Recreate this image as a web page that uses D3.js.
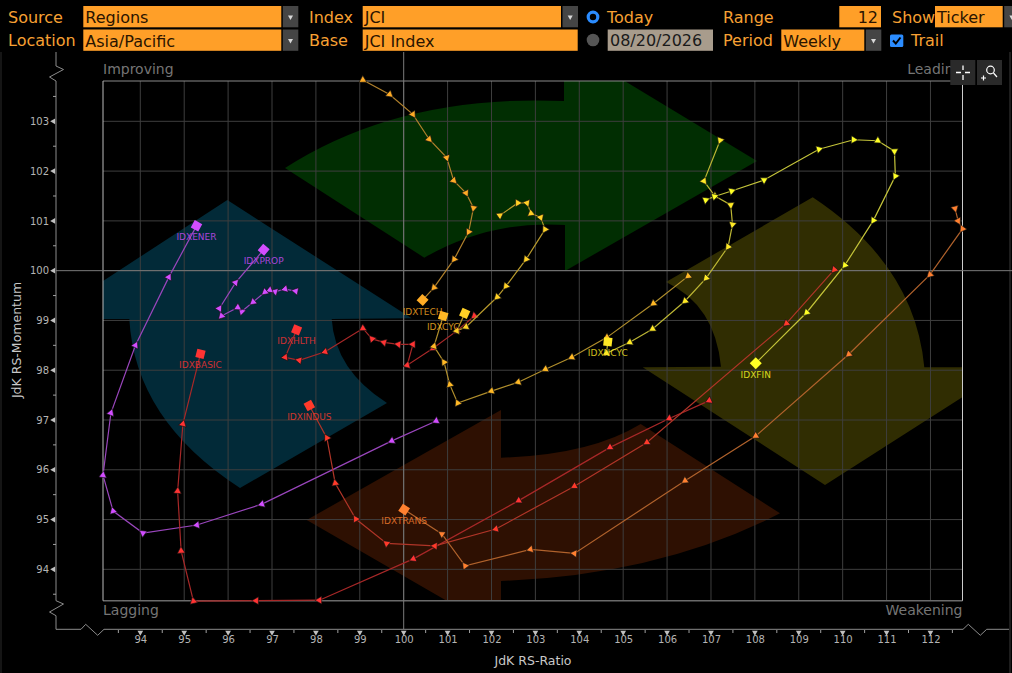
<!DOCTYPE html>
<html>
<head>
<meta charset="utf-8">
<script src="https://cdn.jsdelivr.net/npm/d3@7"></script>
<style>
html, body { margin: 0; background: #000; overflow: hidden; }
svg { display: block; }
text { font-family: "DejaVu Sans", sans-serif; }
</style>
</head>
<body>
<div id="rrg"></div>
<script>
// values, oldest week first, last one is the current position
var enerRatio = [100.74, 99.73, 96.77, 95.29, 94.06, 93.38, 93.15, 93.33, 93.89, 94.65, 95.28];
var enerMom = [96.98, 96.58, 95.31, 94.89, 94.73, 95.17, 95.89, 97.14, 98.50, 99.87, 100.90];
var propRatio = [97.54, 97.30, 97.07, 96.95, 96.84, 96.57, 96.31, 96.22, 95.85, 95.80, 96.17, 96.81];
var propMom = [99.59, 99.63, 99.58, 99.61, 99.57, 99.37, 99.18, 99.26, 99.09, 99.24, 99.76, 100.42];
var basicRatio = [106.96, 106.05, 104.70, 102.62, 100.22, 98.08, 96.64, 95.21, 94.93, 94.85, 94.97, 95.37];
var basicMom = [97.39, 97.03, 96.45, 95.38, 94.21, 93.38, 93.37, 93.36, 94.37, 95.57, 96.92, 98.33];
var hlthRatio = [101.61, 101.21, 100.67, 100.08, 100.21, 99.88, 99.55, 99.28, 99.07, 98.21, 97.62, 97.30, 97.56];
var hlthMom = [99.09, 98.79, 98.44, 98.10, 98.52, 98.52, 98.56, 98.63, 98.84, 98.37, 98.20, 98.26, 98.81];
var indusRatio = [109.81, 108.72, 105.54, 103.89, 102.10, 100.71, 99.61, 98.91, 98.44, 98.25, 97.85];
var indusMom = [100.02, 98.94, 96.55, 95.67, 94.81, 94.47, 94.52, 95.01, 95.73, 96.64, 97.29];
var transRatio = [112.56, 112.63, 112.73, 111.99, 110.14, 108.02, 106.41, 103.89, 102.89, 101.40, 100.87, 100.01];
var transMom = [101.25, 101.00, 100.84, 99.92, 98.32, 96.68, 95.78, 94.32, 94.40, 94.07, 94.71, 95.20];
var techRatio = [99.07, 99.68, 100.21, 100.58, 100.98, 101.14, 101.42, 101.59, 101.48, 101.15, 100.69, 100.43];
var techMom = [103.83, 103.54, 103.14, 102.64, 102.27, 101.81, 101.56, 101.26, 100.78, 100.23, 99.66, 99.41];
var cycRatio = [106.48, 105.69, 104.63, 103.83, 103.23, 102.61, 102.00, 101.23, 101.05, 100.92, 100.69, 100.90];
var cycMom = [99.89, 99.34, 98.66, 98.26, 98.02, 97.76, 97.58, 97.34, 97.71, 98.16, 98.48, 99.09];
var unlabeledRatio = [102.19, 102.60, 102.81, 102.90, 103.12, 103.22, 102.79, 102.33, 102.13, 101.42, 101.21, 101.39];
var unlabeledMom = [101.11, 101.36, 101.36, 101.15, 101.07, 100.83, 100.23, 99.69, 99.47, 98.87, 98.79, 99.14];
var ncycRatio = [107.21, 106.84, 107.09, 107.45, 107.49, 107.39, 106.89, 106.41, 105.67, 105.15, 104.62, 104.65];
var ncycMom = [102.62, 101.80, 101.50, 101.32, 100.93, 100.48, 99.85, 99.39, 98.83, 98.56, 98.34, 98.57];
var finRatio = [106.88, 107.08, 107.47, 108.21, 109.46, 110.25, 110.80, 111.18, 111.20, 110.70, 110.05, 109.18, 108.02];
var finMom = [101.42, 101.49, 101.60, 101.82, 102.44, 102.63, 102.61, 102.40, 101.90, 101.01, 100.11, 99.16, 98.14];

var xTicks = d3.range(94, 113);
var yTicks = d3.range(94, 104);

var series = [
	{ name: "IDXENER", ratio: enerRatio, mom: enerMom, line: "#9a46bd", fill: "#d24dff" },
	{ name: "IDXPROP", ratio: propRatio, mom: propMom, line: "#9a46bd", fill: "#d24dff" },
	{ name: "IDXBASIC", ratio: basicRatio, mom: basicMom, line: "#a82828", fill: "#ff3333" },
	{ name: "IDXHLTH", ratio: hlthRatio, mom: hlthMom, line: "#a82828", fill: "#ff3333" },
	{ name: "IDXINDUS", ratio: indusRatio, mom: indusMom, line: "#b03528", fill: "#ff3a2a" },
	{ name: "IDXTRANS", ratio: transRatio, mom: transMom, line: "#b0622c", fill: "#ff8030" },
	{ name: "IDXTECH", ratio: techRatio, mom: techMom, line: "#b0802c", fill: "#ffab25" },
	{ name: "IDXCYC", ratio: cycRatio, mom: cycMom, line: "#b08e2c", fill: "#ffb825" },
	{ name: "", ratio: unlabeledRatio, mom: unlabeledMom, line: "#b89a2c", fill: "#ffd025" },
	{ name: "IDXNCYC", ratio: ncycRatio, mom: ncycMom, line: "#bcb634", fill: "#ffe925" },
	{ name: "IDXFIN", ratio: finRatio, mom: finMom, line: "#c4c43a", fill: "#ffff25" }
];

var svg = d3.select('#rrg').append('svg')
	.attr('width', 1012)
	.attr('height', 673);

var plotLeft = 103, plotRight = 962.5, plotTop = 81, plotBottom = 600.7;

var x = d3.scaleLinear().domain([93.15, 112.73]).range([plotLeft, plotRight]);
var y = d3.scaleLinear().domain([93.37, 103.81]).range([plotBottom, plotTop]);

svg.append("defs").append("clipPath").attr("id", "plot")
	.append("rect")
	.attr("x", plotLeft).attr("y", plotTop)
	.attr("width", plotRight - plotLeft).attr("height", plotBottom - plotTop);

// outer panel edges
svg.append("line").attr("x1", 1).attr("x2", 1).attr("y1", 52).attr("y2", 673).style("stroke", "#2a2a2a");
svg.append("line").attr("x1", 1010).attr("x2", 1010).attr("y1", 52).attr("y2", 673).style("stroke", "#3a3a3a");

// quadrant arrows behind the grid
var arrows = [
	{ fill: "#012e02", d: "M285,168 Q400,94 564,101 L564,60 L590,60 L757,161 L565,271 L565,225 Q490,220 424.3,257.7 Z" },
	{ fill: "#022a38", d: "M60,309 L227.3,200 L411.7,318.3 L331.7,319 Q335,370 387,403 L240,488 Q135,420 129.3,319 L60,319 Z" },
	{ fill: "#302d02", d: "M812.7,197.3 L666,282 Q715,305 721,366.7 L642.7,367.3 L825,485 L1000,373 L1000,367.3 L924.3,367.3 Q915,265 812.7,197.3 Z" },
	{ fill: "#2e1002", d: "M306.7,520 L501,410 L501,457.7 Q590,455 640.7,424 L780,513.3 Q660,575 501,581 L501,640 L480,620 Z" }
];
svg.append("g").attr("clip-path", "url(#plot)").selectAll("path")
	.data(arrows)
	.enter().append("path")
	.attr("d", function (d) { return d.d; })
	.style("fill", function (d) { return d.fill; });

// grid
svg.append("g").selectAll("line")
	.data(xTicks)
	.enter().append("line")
	.style("stroke", "#3e3e3e")
	.attr("x1", function (d) { return x(d); })
	.attr("x2", function (d) { return x(d); })
	.attr("y1", plotTop)
	.attr("y2", plotBottom);

svg.append("g").selectAll("line")
	.data(yTicks)
	.enter().append("line")
	.style("stroke", "#3e3e3e")
	.attr("x1", plotLeft)
	.attr("x2", plotRight)
	.attr("y1", function (d) { return y(d); })
	.attr("y2", function (d) { return y(d); });

// plot frame
svg.append("line").attr("x1", plotLeft).attr("x2", plotRight).attr("y1", plotTop).attr("y2", plotTop).style("stroke", "#8a8a8a");
svg.append("line").attr("x1", plotLeft).attr("x2", plotRight).attr("y1", plotBottom).attr("y2", plotBottom).style("stroke", "#6a6a6a").style("stroke-width", 1.5);
svg.append("line").attr("x1", plotLeft).attr("x2", plotLeft).attr("y1", plotTop).attr("y2", plotBottom).style("stroke", "#bbbbbb");
svg.append("line").attr("x1", plotRight).attr("x2", plotRight).attr("y1", plotTop).attr("y2", plotBottom).style("stroke", "#cccccc");

// the 100 lines run out past the frame
svg.append("line").attr("x1", x(100)).attr("x2", x(100)).attr("y1", 52).attr("y2", 629).style("stroke", "#7a7a7a");
svg.append("line").attr("x1", 56).attr("x2", 1012).attr("y1", y(100)).attr("y2", y(100)).style("stroke", "#7a7a7a");

// axes with the break marks
var axisColor = "#8c8c8c";
var axisPath = d3.line();
svg.append("path")
	.attr("d", axisPath([[56, 52], [56, 66], [63.5, 69.5], [49.5, 77], [56, 81], [56, 600.7], [63.5, 604], [49.5, 612], [56, 615.7], [56, 629.3],
		[81, 629.3], [85.7, 624.3], [97.7, 635.3], [104, 629.3], [963, 629.3], [968.3, 624.3], [980.3, 635.3], [986.7, 629.3], [1009, 629.3]]))
	.style("fill", "none")
	.style("stroke", axisColor);

var xAxis = d3.axisBottom(x).tickValues(xTicks).tickSize(0).tickPadding(6).tickFormat(d3.format("d"));
var gx = svg.append("g").attr("transform", "translate(0,630)").call(xAxis);
gx.select(".domain").remove();
gx.selectAll("text").style("font-size", "10px").style("fill", "#b4b4b4");

var yAxis = d3.axisLeft(y).tickValues(yTicks).tickSize(0).tickPadding(7).tickFormat(d3.format("d"));
var gy = svg.append("g").attr("transform", "translate(56,0)").call(yAxis);
gy.select(".domain").remove();
gy.selectAll("text").style("font-size", "10px").style("fill", "#b4b4b4");

// tick marks: small arrows on whole numbers, short lines on the halves
svg.append("g").selectAll("path")
	.data(xTicks)
	.enter().append("path")
	.attr("d", d3.symbol().type(d3.symbolTriangle).size(14))
	.attr("transform", function (d) { return "translate(" + x(d) + ",632.5) rotate(180)"; })
	.style("fill", "#c0c0c0");
svg.append("g").selectAll("path")
	.data(yTicks)
	.enter().append("path")
	.attr("d", d3.symbol().type(d3.symbolTriangle).size(14))
	.attr("transform", function (d) { return "translate(53.5," + y(d) + ") rotate(-90)"; })
	.style("fill", "#c0c0c0");
svg.append("g").selectAll("line")
	.data(d3.range(93.5, 113, 1))
	.enter().append("line")
	.style("stroke", "#a0a0a0")
	.attr("x1", function (d) { return x(d); })
	.attr("x2", function (d) { return x(d); })
	.attr("y1", 630)
	.attr("y2", 633);
svg.append("g").selectAll("line")
	.data(d3.range(93.5, 104, 1))
	.enter().append("line")
	.style("stroke", "#a0a0a0")
	.attr("x1", 53)
	.attr("x2", 56)
	.attr("y1", function (d) { return y(d); })
	.attr("y2", function (d) { return y(d); });

svg.append("text").text("JdK RS-Ratio")
	.attr("x", 533).attr("y", 665)
	.attr("text-anchor", "middle")
	.style("font-size", "12.5px")
	.style("fill", "#c8c8c8");
svg.append("text").text("JdK RS-Momentum")
	.attr("transform", "translate(21,340) rotate(-90)")
	.attr("text-anchor", "middle")
	.style("font-size", "12.5px")
	.style("fill", "#c8c8c8");

// quadrant names
var quadrants = [
	{ t: "Improving", x: plotLeft, y: 74, a: "start" },
	{ t: "Leading", x: plotRight, y: 74, a: "end" },
	{ t: "Lagging", x: plotLeft, y: 615, a: "start" },
	{ t: "Weakening", x: plotRight, y: 615, a: "end" }
];
svg.append("g").selectAll("text")
	.data(quadrants)
	.enter().append("text")
	.text(function (d) { return d.t; })
	.attr("x", function (d) { return d.x; })
	.attr("y", function (d) { return d.y; })
	.attr("text-anchor", function (d) { return d.a; })
	.style("font-size", "14px")
	.style("fill", "#757575");

// trails
var trail = d3.line()
	.x(function (d) { return x(d.r); })
	.y(function (d) { return y(d.m); });

function heading(a, b) {
	return Math.atan2(y(b.m) - y(a.m), x(b.r) - x(a.r)) * 180 / Math.PI;
}

svg.append("g").selectAll("g")
	.data(series)
	.enter().append("g")
	.each(function (s) {
		var pts = s.ratio.map(function (r, i) { return { r: r, m: s.mom[i] }; });
		var g = d3.select(this);
		var last = pts.length - 1;

		g.append("path")
			.attr("d", trail(pts))
			.style("fill", "none")
			.style("stroke", s.line)
			.style("stroke-width", 1.2);

		// triangle points the way the week moved
		g.selectAll(".step")
			.data(pts.slice(0, last))
			.enter().append("path")
			.attr("class", "step")
			.attr("d", d3.symbol().type(d3.symbolTriangle).size(26))
			.attr("transform", function (d, i) {
				return "translate(" + x(d.r) + "," + y(d.m) + ") rotate(" + (heading(d, pts[i + 1]) + 90) + ")";
			})
			.style("fill", s.fill)
			.style("stroke", "#111")
			.style("stroke-width", 0.6);

		g.append("path")
			.attr("d", d3.symbol().type(d3.symbolSquare).size(72))
			.attr("transform", "translate(" + x(pts[last].r) + "," + y(pts[last].m) + ") rotate(" + heading(pts[last - 1], pts[last]) + ")")
			.style("fill", s.fill);
	});

// labels on top of the trails
svg.append("g").selectAll("text")
	.data(series)
	.enter().append("text")
	.text(function (s) { return s.name; })
	.attr("x", function (s) { return x(s.ratio[s.ratio.length - 1]); })
	.attr("y", function (s) { return y(s.mom[s.mom.length - 1]) + 14.5; })
	.attr("text-anchor", "middle")
	.style("font-size", "9px")
	.style("fill", function (s) { return s.fill; })
	.style("opacity", 0.8);

// toolbar above the chart
var orange = "#ff9f28", labelColor = "#f7a033", inputText = "#2a1400";

var labels = [
	["Source", 8, 23], ["Location", 8, 46], ["Index", 309, 23], ["Base", 309, 46],
	["Today", 607, 23], ["Range", 723, 23], ["Period", 723, 46], ["Show", 892, 23], ["Trail", 911, 46]
];
svg.append("g").selectAll("text")
	.data(labels)
	.enter().append("text")
	.text(function (d) { return d[0]; })
	.attr("x", function (d) { return d[1]; })
	.attr("y", function (d) { return d[2]; })
	.style("font-size", "16px")
	.style("fill", labelColor);

var fields = [
	{ t: "Regions", x: 83.3, w: 198, y: 6, arrow: true },
	{ t: "Asia/Pacific", x: 83.3, w: 198, y: 29.5, arrow: true },
	{ t: "JCI", x: 362.7, w: 198.3, y: 6, arrow: true },
	{ t: "JCI Index", x: 362.7, w: 215, y: 29.5 },
	{ t: "12", x: 839.3, w: 41.7, y: 6, end: true },
	{ t: "Ticker", x: 935, w: 67.7, y: 6, arrow: true },
	{ t: "Weekly", x: 781.3, w: 83, y: 29.5, arrow: true }
];
var field = svg.append("g").selectAll("g")
	.data(fields)
	.enter().append("g");
field.append("rect")
	.attr("x", function (d) { return d.x; })
	.attr("y", function (d) { return d.y; })
	.attr("width", function (d) { return d.w; })
	.attr("height", 21.3)
	.style("fill", orange);
field.append("text")
	.text(function (d) { return d.t; })
	.attr("x", function (d) { return d.end ? d.x + d.w - 3 : d.x + 2; })
	.attr("y", function (d) { return d.y + 17; })
	.attr("text-anchor", function (d) { return d.end ? "end" : "start"; })
	.style("font-size", "16px")
	.style("fill", inputText);
var buttons = field.filter(function (d) { return d.arrow; });
buttons.append("rect")
	.attr("x", function (d) { return d.x + d.w + 1.5; })
	.attr("y", function (d) { return d.y; })
	.attr("width", 15.5)
	.attr("height", 21.3)
	.style("fill", "#454545");
buttons.append("path")
	.attr("d", d3.symbol().type(d3.symbolTriangle).size(11))
	.attr("transform", function (d) { return "translate(" + (d.x + d.w + 9.2) + "," + (d.y + 11) + ") rotate(180)"; })
	.style("fill", "#d8d8d8");

// date box, radios, checkbox
svg.append("rect").attr("x", 607.7).attr("y", 29.5).attr("width", 105.3).attr("height", 21.3).style("fill", "#a89c8c");
svg.append("text").text("08/20/2026").attr("x", 610).attr("y", 46).style("font-size", "16px").style("fill", "#1a1a1a");
svg.append("circle").attr("cx", 593).attr("cy", 17).attr("r", 4.8).style("fill", "#000").style("stroke", "#2b8cff").style("stroke-width", 3.2);
svg.append("circle").attr("cx", 593).attr("cy", 40).attr("r", 6.3).style("fill", "#555");
svg.append("rect").attr("x", 890).attr("y", 34.5).attr("width", 13.3).attr("height", 12.5).attr("rx", 1.5).style("fill", "#2b8cff");
svg.append("path").attr("d", "M893,40.5 L895.8,43.5 L900.5,37.5").style("fill", "none").style("stroke", "#000").style("stroke-width", 2);

// zoom buttons
svg.append("rect").attr("x", 950.3).attr("y", 60).attr("width", 25).attr("height", 25).style("fill", "#2a2a2a");
svg.append("rect").attr("x", 977).attr("y", 60).attr("width", 25).attr("height", 25).style("fill", "#2a2a2a");
svg.append("path").attr("d", "M956,72.5 H961 M965,72.5 H970 M963,65.5 V70 M963,75 V80").style("stroke", "#fff").style("stroke-width", 1.3).style("fill", "none");
svg.append("circle").attr("cx", 990.5).attr("cy", 70).attr("r", 3.8).style("fill", "none").style("stroke", "#fff").style("stroke-width", 1.2);
svg.append("path").attr("d", "M993.5,73 L997,77 M981,78 H986 M983.5,75.5 V80.5").style("stroke", "#fff").style("stroke-width", 1.2).style("fill", "none");
</script>
</body>
</html>
